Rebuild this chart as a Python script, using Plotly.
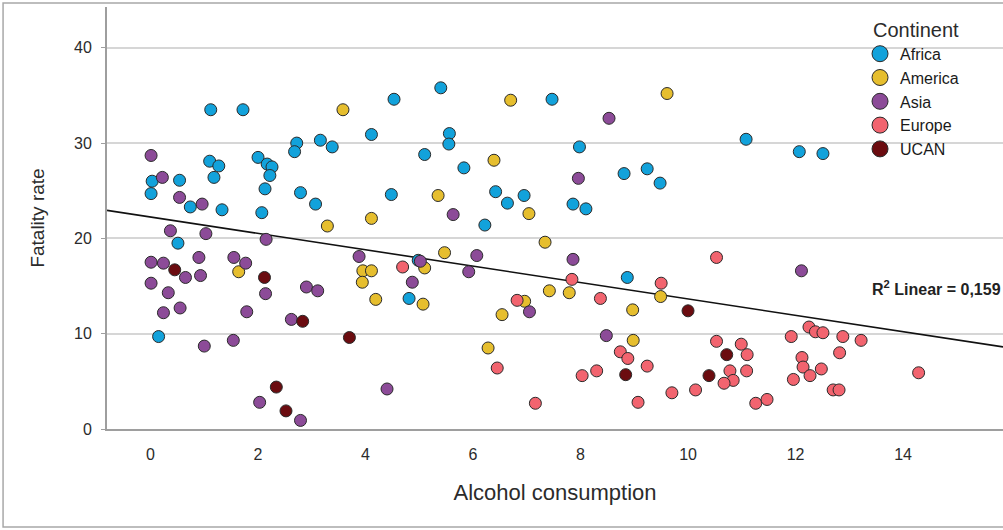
import numpy as np
import plotly.graph_objects as go

# Alcohol consumption (x) and fatality rate (y) per country, grouped by continent
africa_x = [1.12, 1.72, 4.53, 4.11, 2.72, 2.68, 3.16, 3.38, 1.10, 1.27, 1.18, 2.00, 2.17, 2.26,
            2.22, 2.13, 0.03, 0.54, 0.01, 0.74, 1.33, 2.07, 2.79, 3.07, 4.48, 0.51, 0.15, 5.40,
            7.47, 5.56, 5.55, 5.10, 7.98, 5.83, 8.81, 9.24, 9.48, 6.42, 6.64, 6.95, 6.22, 7.86,
            8.10, 4.98, 4.81, 8.87, 11.08, 12.07, 12.51]
africa_y = [33.5, 33.5, 34.6, 30.9, 30.0, 29.1, 30.3, 29.6, 28.1, 27.6, 26.4, 28.5, 27.8, 27.5,
            26.6, 25.2, 26.0, 26.1, 24.7, 23.3, 23.0, 22.7, 24.8, 23.6, 24.6, 19.5, 9.7, 35.8,
            34.6, 31.0, 29.9, 28.8, 29.6, 27.4, 26.8, 27.3, 25.8, 24.9, 23.7, 24.5, 21.4, 23.6,
            23.1, 17.7, 13.7, 15.9, 30.4, 29.1, 28.9]

america_x = [3.58, 4.11, 3.29, 3.95, 4.11, 3.94, 4.19, 1.64, 6.70, 9.61, 6.39, 5.35, 7.04, 7.34,
             5.47, 5.10, 5.07, 7.42, 7.79, 6.96, 6.54, 9.49, 8.97, 8.98, 6.28]
america_y = [33.5, 22.1, 21.3, 16.6, 16.6, 15.4, 13.6, 16.5, 34.5, 35.2, 28.2, 24.5, 22.6, 19.6,
             18.5, 16.9, 13.1, 14.5, 14.3, 13.4, 12.0, 13.9, 12.5, 9.3, 8.5]

asia_x = [0.01, 0.22, 0.54, 0.96, 0.37, 1.03, 2.15, 3.88, 0.01, 0.24, 0.65, 0.90, 0.93, 0.01,
          0.33, 0.24, 0.55, 1.00, 1.54, 1.55, 1.77, 2.14, 1.79, 2.90, 3.11, 2.62, 2.03, 2.79,
          4.40, 8.53, 7.96, 5.63, 6.07, 7.86, 5.02, 5.92, 4.87, 7.05, 8.48, 12.11]
asia_y = [28.7, 26.4, 24.3, 23.6, 20.8, 20.5, 19.9, 18.1, 17.5, 17.4, 15.9, 18.0, 16.1, 15.3,
          14.3, 12.2, 12.7, 8.7, 9.3, 18.0, 17.4, 14.2, 12.3, 14.9, 14.5, 11.5, 2.8, 0.9,
          4.2, 32.6, 26.3, 22.5, 18.2, 17.8, 17.6, 16.5, 15.4, 12.3, 9.8, 16.6]

europe_x = [4.69, 7.84, 6.82, 8.37, 9.50, 8.74, 8.88, 9.24, 6.45, 8.30, 8.03, 9.70, 9.07, 7.16,
            10.53, 12.25, 12.37, 12.51, 11.92, 12.88, 13.22, 10.53, 10.99, 11.10, 12.82, 12.12,
            12.14, 12.48, 12.27, 11.96, 10.78, 11.09, 10.84, 10.67, 10.14, 12.70, 12.81, 11.26,
            11.47, 14.29]
europe_y = [17.0, 15.7, 13.5, 13.7, 15.3, 8.1, 7.4, 6.6, 6.4, 6.1, 5.6, 3.8, 2.8, 2.7,
            18.0, 10.7, 10.2, 10.1, 9.7, 9.7, 9.3, 9.2, 8.9, 7.8, 8.0, 7.5,
            6.5, 6.3, 5.6, 5.2, 6.1, 6.1, 5.1, 4.8, 4.1, 4.1, 4.1, 2.7,
            3.1, 5.9]

ucan_x = [0.45, 2.12, 2.83, 3.70, 2.34, 2.52, 8.84, 10.00, 10.72, 10.39]
ucan_y = [16.7, 15.9, 11.3, 9.6, 4.4, 1.9, 5.7, 12.4, 7.8, 5.6]

continents = ["Africa", "America", "Asia", "Europe", "UCAN"]
xs = [africa_x, america_x, asia_x, europe_x, ucan_x]
ys = [africa_y, america_y, asia_y, europe_y, ucan_y]
colors = ["#12A2DB", "#E6BE2E", "#8C4B98", "#F2646F", "#6B0C10"]

r2_text = "R<sup>2</sup> Linear = 0,159"
x_range = [-0.81, 15.86]
y_range = [0, 44.28]

fig = go.Figure()

# linear fit over all countries
all_x = np.concatenate([np.array(v) for v in xs])
all_y = np.concatenate([np.array(v) for v in ys])
slope, intercept = np.polyfit(all_x, all_y, 1)
fit_x = np.array(x_range)
fig.add_trace(go.Scatter(x=fit_x, y=intercept + slope * fit_x, mode="lines",
                         line=dict(color="#111111", width=1.6),
                         showlegend=False, hoverinfo="skip", cliponaxis=True))

for name, x, y, c in zip(continents, xs, ys, colors):
    fig.add_trace(go.Scatter(
        x=x, y=y, mode="markers", name=name, showlegend=False,
        marker=dict(size=12, color=c, line=dict(color="#2a2a2a", width=1)),
        cliponaxis=False))

# legend entries with larger symbols
for name, c in zip(continents, colors):
    fig.add_trace(go.Scatter(
        x=[None], y=[None], mode="markers", name=name,
        marker=dict(size=16, color=c, line=dict(color="#2a2a2a", width=1))))

fig.add_annotation(text=r2_text, xref="paper", yref="paper", x=0.8516, y=0.334,
                   xanchor="left", yanchor="middle", showarrow=False,
                   font=dict(family="Liberation Sans, Arial", size=16, color="#222222", weight="bold"))

# outer frame of the chart
fig.add_shape(type="rect", xref="paper", yref="paper",
              x0=-0.116, x1=1.01, y0=-0.232, y1=1.0095,
              line=dict(color="#A8A8A8", width=1.5), layer="below")

fig.update_layout(
    width=1003, height=530,
    margin=dict(l=107, r=0, t=7, b=101),
    paper_bgcolor="white", plot_bgcolor="white",
    font=dict(family="Liberation Sans, Arial", color="#2b2b2b"),
    legend=dict(x=0.8527, y=0.991, xanchor="left", yanchor="top",
                title=dict(text="Continent", font=dict(size=20, color="#2b2b2b")),
                font=dict(size=16, color="#1a1a1a"),
                bgcolor="rgba(0,0,0,0)", indentation=-11, tracegroupgap=0),
    xaxis=dict(range=x_range, tickvals=[0, 2, 4, 6, 8, 10, 12, 14],
               showgrid=False, zeroline=False, showline=True, linecolor="#9E9E9E", linewidth=2,
               ticks="", ticklabelstandoff=10, tickfont=dict(size=16, color="#2b2b2b"),
               title=dict(text="Alcohol consumption", font=dict(size=22, color="#2b2b2b"), standoff=22)),
    yaxis=dict(range=y_range, tickvals=[0, 10, 20, 30, 40],
               showgrid=True, gridcolor="#D6D6D6", gridwidth=1.5, zeroline=False,
               showline=True, linecolor="#9E9E9E", linewidth=2,
               ticks="outside", ticklen=4, tickcolor="#9E9E9E", ticklabelstandoff=6,
               tickfont=dict(size=16, color="#2b2b2b"),
               title=dict(text="Fatality rate", font=dict(size=19, color="#2b2b2b"), standoff=24)),
)

fig.write_html("out.html", post_script="document.body.style.margin='0';")
